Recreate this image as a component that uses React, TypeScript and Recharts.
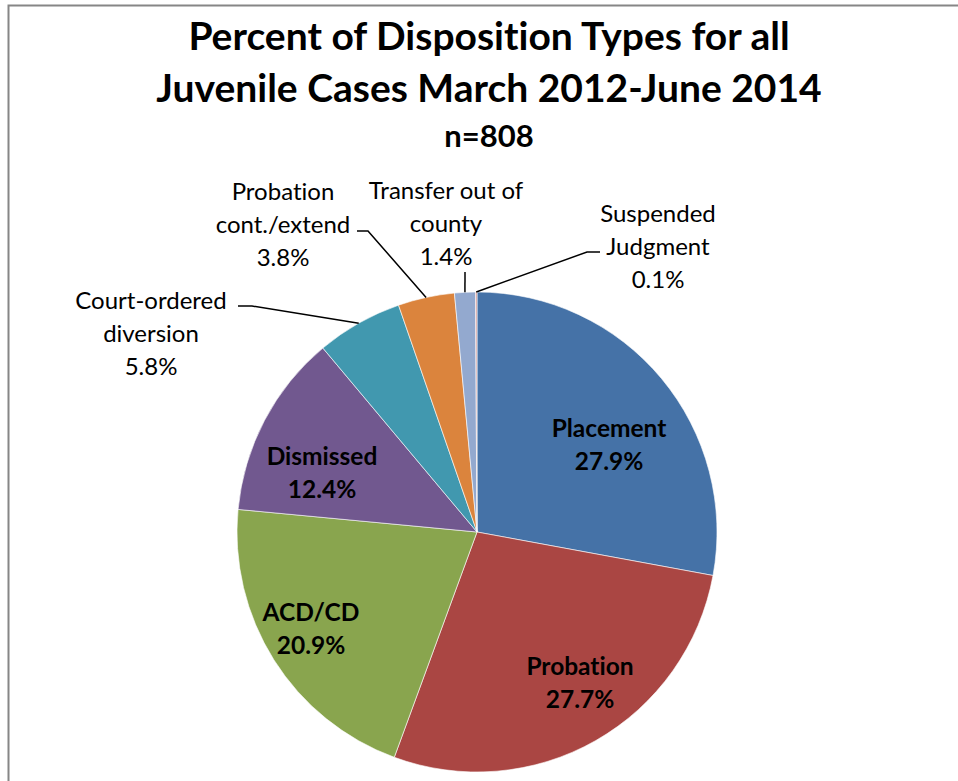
import React from 'react';
import { PieChart, Pie, Cell } from 'recharts';

const categories = [
  'Placement',
  'Probation',
  'ACD/CD',
  'Dismissed',
  'Court-ordered diversion',
  'Probation cont./extend',
  'Transfer out of county',
  'Suspended Judgment',
];
const percents = [27.9, 27.7, 20.9, 12.4, 5.8, 3.8, 1.4, 0.1];
const colors = ['#4572A7', '#AA4643', '#89A54E', '#71588F', '#4198AF', '#DB843D', '#93A9CF', '#D19392'];
const titleLines = ['Percent of Disposition Types for all', 'Juvenile Cases March 2012-June 2014', 'n=808'];

const data = categories.map((name, i) => ({ name, value: percents[i] }));

const FONT = 'Lato, "Open Sans", sans-serif';
const CX = 477;
const CY = 532;
const R = 240;

// label layout, offsets from the pie centre
const labelLayout: Record<string, any> = {
  Placement: { dx: 132, dy: -88, inside: true, lines: ['Placement'] },
  Probation: { dx: 103, dy: 150, inside: true, lines: ['Probation'] },
  'ACD/CD': { dx: -166, dy: 96, inside: true, lines: ['ACD/CD'] },
  Dismissed: { dx: -155, dy: -60, inside: true, lines: ['Dismissed'] },
  'Court-ordered diversion': {
    dx: -326, dy: -200, lines: ['Court-ordered', 'diversion'],
    leader: [[-225, -226], [-239, -226]],
  },
  'Probation cont./extend': {
    dx: -194, dy: -309, lines: ['Probation', 'cont./extend'],
    leader: [[-109, -301], [-120, -301]],
  },
  'Transfer out of county': {
    dx: -31, dy: -310, lines: ['Transfer out of', 'county'],
    leader: [[-12, -260]],
  },
  'Suspended Judgment': {
    dx: 181, dy: -287, lines: ['Suspended', 'Judgment'],
    leader: [[110, -280], [123, -280]],
  },
};

const RAD = Math.PI / 180;

const renderLabel = (props: any) => {
  const { cx, cy, midAngle, outerRadius, name, value } = props;
  const cfg = labelLayout[name];
  if (!cfg) return null;
  const lines = [...cfg.lines, `${value.toFixed(1)}%`];
  const lh = 33;
  const x = cx + cfg.dx;
  const y0 = cy + cfg.dy - ((lines.length - 1) * lh) / 2;
  let leader = null;
  if (cfg.leader) {
    const ex = cx + outerRadius * Math.cos(-midAngle * RAD);
    const ey = cy + outerRadius * Math.sin(-midAngle * RAD);
    const pts = [[ex, ey], ...cfg.leader.map((p: number[]) => [cx + p[0], cy + p[1]])];
    leader = (
      <polyline
        points={pts.map((p) => p.join(',')).join(' ')}
        fill="none"
        stroke="#000"
        strokeWidth={1.5}
      />
    );
  }
  return (
    <g>
      {leader}
      {lines.map((t, i) => (
        <text
          key={i}
          x={x}
          y={y0 + i * lh}
          textAnchor="middle"
          dominantBaseline="central"
          fill="#000"
          fontFamily={FONT}
          fontSize={cfg.inside ? 24.5 : 24}
          fontWeight={cfg.inside ? 700 : 400}
          style={{ fontVariantLigatures: 'none' }}
        >
          {t}
        </text>
      ))}
    </g>
  );
};

export default function App() {
  return (
    <div style={{ position: 'absolute', left: 0, top: 0, width: 958, height: 781, background: '#fff', overflow: 'hidden' }}>
      <svg width={958} height={781} style={{ position: 'absolute', left: 0, top: 0 }}>
        <rect x={8.5} y={5.5} width={1000} height={1000} fill="none" stroke="#868686" strokeWidth={2} />
        {titleLines.map((t, i) => (
          <text
            key={i}
            x={489}
            y={[50, 102, 147][i]}
            textAnchor="middle"
            fontFamily={FONT}
            fontWeight={700}
            fontSize={i < 2 ? 39 : 31}
            fill="#000"
            style={{ fontVariantLigatures: 'none' }}
          >
            {t}
          </text>
        ))}
      </svg>
      <div style={{ position: 'absolute', left: 0, top: 0 }}>
        <PieChart width={958} height={781} margin={{ top: 0, right: 0, bottom: 0, left: 0 }}>
          <Pie
            data={data}
            dataKey="value"
            nameKey="name"
            cx={CX}
            cy={CY}
            outerRadius={R}
            startAngle={90}
            endAngle={-270}
            stroke="#ffffff"
            strokeWidth={0.6}
            label={renderLabel}
            labelLine={false}
            isAnimationActive={false}
          >
            {data.map((d, i) => (
              <Cell key={d.name} fill={colors[i]} />
            ))}
          </Pie>
        </PieChart>
      </div>
    </div>
  );
}
